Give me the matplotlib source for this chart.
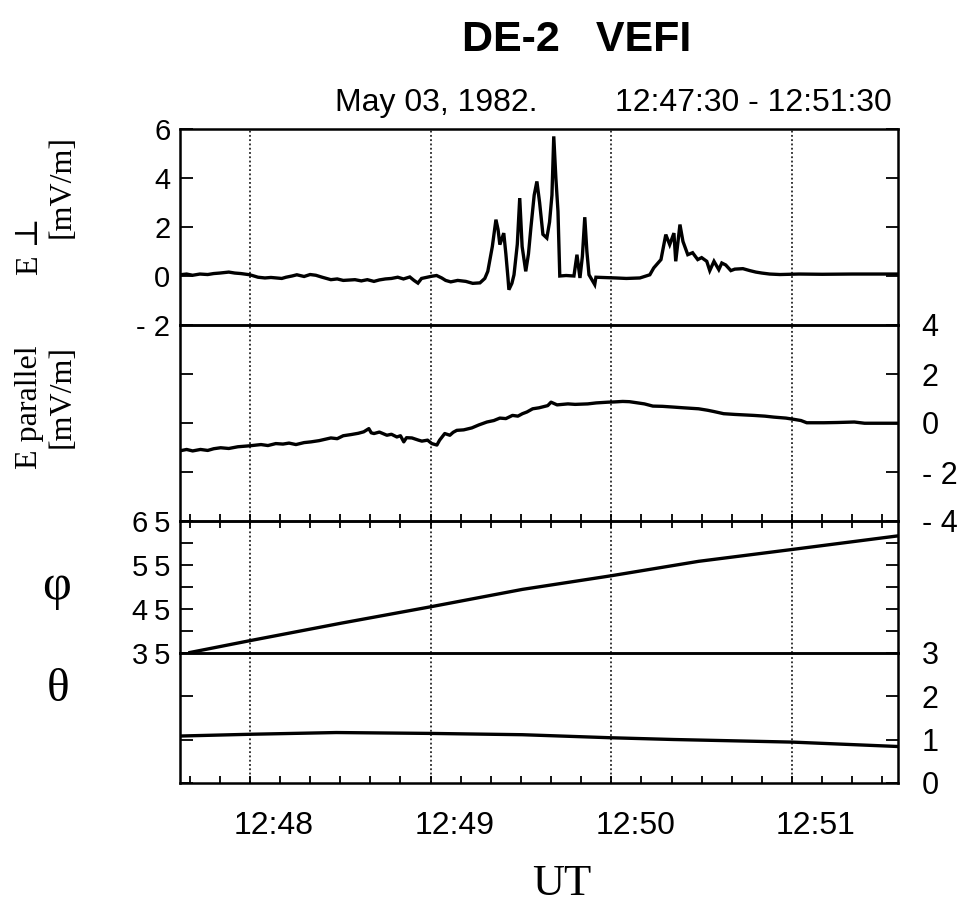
import matplotlib
matplotlib.use("Agg")
import matplotlib.pyplot as plt
from matplotlib.transforms import ScaledTranslation

# ---------------- data (time in seconds after 12:47:00 UT) ----------------
t_eperp = [36.8, 39, 41, 43.4, 46, 48, 50, 53.0, 55, 57, 60, 62.7, 65, 67, 70.6, 72, 74, 75.6,
           78, 80, 81.9, 84, 86.9, 89, 91, 94.9, 97, 99, 101.2, 103, 105, 107, 109.1, 111,
           113.1, 114.5, 115.8, 117, 120.4, 122, 123.7, 125, 126.7, 129, 131.7, 134, 136.4,
           138.0, 139.0, 140.5, 141.7, 142.4, 143.0, 144.3, 145.0, 145.7, 146.0, 147.0, 147.7,
           148.8, 149.6, 150.4, 151.6, 152.5, 153.3, 154.4, 155.3, 156.2, 157.3, 158.6, 159.5,
           160.3, 160.9, 161.6, 162.3, 162.9, 165, 167.6, 168.6, 169.6, 170.4, 171.2, 171.9,
           172.6, 174.5, 174.9, 177, 181.5, 185, 189.5, 192.8, 194.1, 196.5, 198.1, 199.4,
           200.8, 201.4, 202.8, 203.8, 205.4, 207, 208.7, 210, 211.7, 212.7, 214.1, 215.7,
           216.7, 218, 219.7, 221, 223.7, 226, 228.0, 230, 232.6, 236, 242.3, 250, 260, 275.2]
e_perp = [0.05, 0.08, 0.03, 0.08, 0.06, 0.10, 0.12, 0.16, 0.12, 0.10, 0.05, -0.05, -0.08, -0.06,
          -0.10, -0.05, 0.0, 0.05, -0.02, 0.06, 0.03, -0.05, -0.15, -0.12, -0.18, -0.15, -0.20,
          -0.15, -0.22, -0.16, -0.12, -0.10, -0.05, -0.12, -0.04, -0.18, -0.29, -0.10, -0.01,
          0.02, -0.08, -0.18, -0.24, -0.18, -0.22, -0.30, -0.28,
          -0.10, 0.19, 1.2, 2.3, 1.9, 1.28, 1.75, 0.9, -0.08, -0.56, -0.3, 0.05,
          1.3, 3.18, 1.2, 0.19, 0.9, 1.96, 3.3, 3.86, 3.0, 1.7, 1.55, 2.2,
          3.3, 5.7, 4.0, 2.64, 0.0, 0.02, 0.0, 0.87, -0.08, 0.8, 2.4, 1.0,
          0.05, -0.35, -0.05, -0.06, -0.08, -0.10, -0.08, 0.05, 0.33, 0.67, 1.69, 1.28,
          1.75, 0.6, 2.1, 1.41, 0.87, 0.95, 0.67, 0.75, 0.6, 0.22, 0.6, 0.26,
          0.53, 0.45, 0.22, 0.28, 0.3, 0.22, 0.16, 0.12, 0.08, 0.06, 0.08, 0.07, 0.08, 0.08]

t_epar = [37.0, 39, 41, 43.6, 46, 48, 50.3, 53, 56, 60, 63.7, 66, 68.6, 71, 73, 75.3, 78, 80.3,
          83, 86.9, 89, 91, 93.7, 96, 97.8, 99.5, 100.3, 101.2, 103, 105.5, 107, 108.8, 110,
          111.1, 112, 113.8, 116, 117.1, 119, 120.4, 122.1, 123, 124.7, 126.4, 127.5, 128.7,
          131, 133.7, 136, 138.7, 141, 143.0, 145, 147.2, 149, 150.5, 152, 153.9, 156, 158.9,
          160, 162, 165.6, 168, 172.2, 175, 178.9, 181, 183.8, 186, 188.8, 191, 193.8, 197,
          200.6, 204, 209.0, 212, 214.0, 217.3, 221, 227.3, 231, 234.0, 238, 240.6, 243,
          244.9, 250.6, 255, 260.7, 264.1, 270, 275.2]
e_par = [-1.13, -1.08, -1.14, -1.08, -1.12, -1.05, -1.01, -1.04, -0.97, -0.93, -0.88, -0.92,
         -0.84, -0.86, -0.82, -0.88, -0.80, -0.77, -0.72, -0.61, -0.64, -0.52, -0.47, -0.42,
         -0.36, -0.23, -0.40, -0.43, -0.37, -0.50, -0.46, -0.57, -0.52, -0.77, -0.60, -0.61,
         -0.70, -0.74, -0.70, -0.84, -0.90, -0.70, -0.43, -0.50, -0.38, -0.30, -0.28, -0.20,
         -0.08, 0.04, 0.10, 0.20, 0.18, 0.31, 0.28, 0.38, 0.45, 0.58, 0.62, 0.71, 0.85, 0.74,
         0.78, 0.76, 0.78, 0.82, 0.85, 0.86, 0.88, 0.87, 0.82, 0.78, 0.69, 0.68, 0.65, 0.62,
         0.58, 0.52, 0.47, 0.38, 0.35, 0.31, 0.28, 0.24, 0.20, 0.15, 0.10, 0.01, 0.01, 0.02,
         0.04, -0.01, -0.01, -0.01]

t_phi = [40.1, 60, 90.4, 119.8, 150.5, 179.9, 209.0, 240.0, 275.1]
phi = [35.0, 37.7, 41.7, 45.4, 49.4, 52.5, 55.8, 58.5, 61.6]

t_theta = [37.0, 60, 88.7, 119.8, 150.5, 179.9, 200.6, 240.2, 274.8]
theta = [1.08, 1.12, 1.16, 1.14, 1.11, 1.04, 1.00, 0.94, 0.84]

minute_ticks = [60, 120, 180, 240]
minute_labels = ["12:48", "12:49", "12:50", "12:51"]
x_range = (36.8, 275.2)

# ---------------- figure ----------------
W, H = 969, 906
fig = plt.figure(figsize=(W / 100, H / 100), dpi=100)

SANS = ["Liberation Sans", "DejaVu Sans"]
SERIF = ["Liberation Serif", "DejaVu Serif"]

def ax_rect(top_px, bot_px):
    left, right = 180, 898
    return [left / W, 1 - bot_px / H, (right - left) / W, (bot_px - top_px) / H]

ax1 = fig.add_axes(ax_rect(129, 325))
ax2 = fig.add_axes(ax_rect(325, 521))
ax3 = fig.add_axes(ax_rect(521, 652.5))
ax4 = fig.add_axes(ax_rect(652.5, 783))
axes = [ax1, ax2, ax3, ax4]

LW = 2.4
ax1.plot(t_eperp, e_perp, color="black", lw=LW, solid_joinstyle="miter")
ax2.plot(t_epar, e_par, color="black", lw=LW)
ax3.plot(t_phi, phi, color="black", lw=LW)
ax4.plot(t_theta, theta, color="black", lw=LW)

ax1.set_ylim(-2, 6)
ax2.set_ylim(-4, 4)
ax3.set_ylim(35, 65)
ax4.set_ylim(0, 3)

for ax in axes:
    ax.set_xlim(*x_range)
    ax.set_facecolor("none")
    for s in ax.spines.values():
        s.set_linewidth(1.8)
        s.set_color("black")
    for m in minute_ticks:
        ax.axvline(m, color="black", lw=1.1, ls=(0, (1.2, 1.6)), zorder=1)
    ax.set_xticks(minute_ticks)
    ax.set_xticks(list(range(40, 276, 10)), minor=True)
    ax.tick_params(axis="x", which="both", direction="in", length=5, width=1.3,
                   top=False, bottom=False, labelbottom=False, labeltop=False)
    ax.tick_params(axis="y", which="both", direction="in", length=9, width=1.3,
                   left=True, right=True, labelleft=False, labelright=False)

# y ticks / labels
ax1.set_yticks([-2, 0, 2, 4, 6])
ax1.set_yticklabels(["- 2", "0", "2", "4", "6"], family=SANS, fontsize=21)
ax1.tick_params(axis="y", labelleft=True, pad=7)

ax2.set_yticks([-4, -2, 0, 2, 4])
ax2.set_yticklabels(["- 4", "- 2", "0", "2", "4"], family=SANS, fontsize=22)
ax2.tick_params(axis="y", labelright=True, pad=17)

ax3.set_yticks([35, 45, 55, 65])
ax3.set_yticks([40, 50, 60], minor=True)
ax3.set_yticklabels(["3\u20095", "4\u20095", "5\u20095", "6\u20095"], family=SANS, fontsize=21)
ax3.tick_params(axis="y", labelleft=True, pad=7)

ax4.set_yticks([0, 1, 2, 3])
ax4.set_yticklabels(["0", "1", "2", "3"], family=SANS, fontsize=22)
ax4.tick_params(axis="y", labelright=True, pad=17)

# x minor/major ticks on selected edges
ax2.tick_params(axis="x", which="both", bottom=True)
ax3.tick_params(axis="x", which="both", top=True)
ax4.tick_params(axis="x", which="both", bottom=True, labelbottom=True, pad=20)
ax4.set_xticklabels(minute_labels, family=SANS, fontsize=23)
off = ScaledTranslation(24 / 100, 0, fig.dpi_scale_trans)
for lab in ax4.get_xticklabels():
    lab.set_transform(lab.get_transform() + off)

# ---------------- texts ----------------
def fx(px):
    return px / W

def fy(py):
    return 1 - py / H

fig.text(fx(577), fy(40), "DE-2   VEFI", ha="center", va="center",
         family=SANS, fontweight="bold", fontsize=31)
fig.text(fx(335), fy(103), "May 03, 1982.", ha="left", va="center",
         family=SANS, fontsize=23)
fig.text(fx(892), fy(103), "12:47:30 - 12:51:30", ha="right", va="center",
         family=SANS, fontsize=23)

YL = 23
fig.text(fx(30), fy(275), "E \u22a5", rotation=90, ha="center", va="bottom",
         family=SERIF, fontsize=YL)
fig.text(fx(62), fy(187), "[mV/m]", rotation=90, ha="center", va="center",
         family=SERIF, fontsize=YL)
fig.text(fx(30), fy(345), "E parallel", rotation=90, ha="center", va="top",
         family=SERIF, fontsize=YL)
fig.text(fx(62), fy(345), "[mV/m]", rotation=90, ha="center", va="top",
         family=SERIF, fontsize=YL)

fig.text(fx(57), fy(587), "\u03c6", ha="center", va="center", family=SERIF, fontsize=36)
fig.text(fx(58), fy(690), "\u03b8", ha="center", va="center", family=SERIF, fontsize=34)
fig.text(fx(562), fy(884), "UT", ha="center", va="center", family=SERIF, fontsize=32)

fig.savefig("out.png", dpi=100)
